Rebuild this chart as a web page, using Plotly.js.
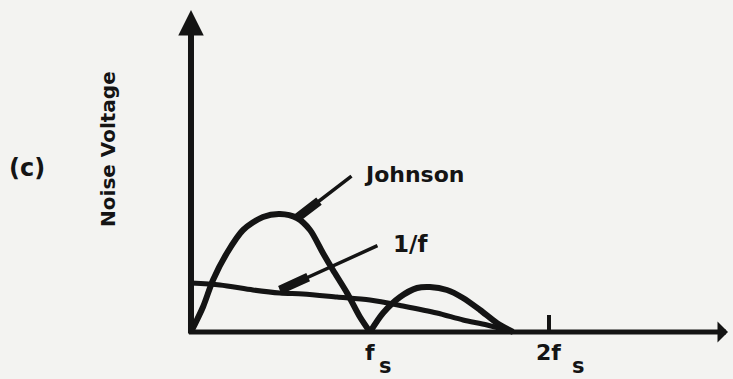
<html lang="en">
  <head>
    <meta charset="UTF-8" />
    <title>Noise Voltage</title>
    <script src="https://cdn.jsdelivr.net/npm/plotly.js-dist-min/plotly.min.js"></script>
    <style>
      body { margin: 0; background: #f3f3f1; }
    </style>
  </head>
  <body>
    <div id="noise-plot" style="width: 733px; height: 379px"></div>
    <script>
      // frequency in units of fs, noise voltage in arbitrary units
      const johnsonLobe1F = [0, 0.067, 0.123, 0.201, 0.291, 0.402, 0.497, 0.592, 0.665, 0.737, 0.793, 0.872, 0.944, 1.0];
      const johnsonLobe1V = [0, 0.25, 0.52, 0.79, 1.02, 1.15, 1.18, 1.14, 1.02, 0.79, 0.62, 0.39, 0.15, 0];
      const johnsonLobe2F = [1.0, 1.073, 1.168, 1.263, 1.335, 1.43, 1.52, 1.615, 1.709, 1.799];
      const johnsonLobe2V = [0, 0.19, 0.35, 0.44, 0.45, 0.42, 0.34, 0.22, 0.09, 0];
      const flickerF = [0, 0.162, 0.346, 0.497, 0.626, 0.816, 1.0, 1.184, 1.374, 1.52, 1.654, 1.799];
      const flickerV = [0.49, 0.47, 0.42, 0.39, 0.38, 0.35, 0.32, 0.26, 0.19, 0.12, 0.07, 0];
      const tickVals = [1, 2];
      const tickMain = ["f", "2f"];
      const tickSub = ["s", "s"];
      const tickMarked = [false, true];

      const ink = "#141414";
      const font = { family: "DejaVu Sans", size: 22, color: ink, weight: "bold" };

      const curve = (x, y, w) => ({
        x: x,
        y: y,
        type: "scatter",
        mode: "lines",
        line: { color: ink, width: w, shape: "spline", smoothing: 0.8 },
        hoverinfo: "skip",
        showlegend: false,
      });

      const traces = [
        curve(flickerF, flickerV, 5),
        curve(johnsonLobe1F, johnsonLobe1V, 6),
        curve(johnsonLobe2F, johnsonLobe2V, 6),
      ];

      const arrow = (x, y, ax, ay, opts) =>
        Object.assign(
          {
            x: x, y: y, ax: ax, ay: ay,
            xref: "x", yref: "y", axref: "x", ayref: "y",
            text: "", showarrow: true, arrowcolor: ink,
            arrowhead: 0, standoff: 0, startstandoff: 0,
          },
          opts
        );

      const label = (text, x, y, opts) =>
        Object.assign(
          { text: text, x: x, y: y, xref: "x", yref: "y", showarrow: false, font: font },
          opts
        );

      // pointer: thin line from label to curve, thick stroke next to the curve
      const pointer = (tip, tail, frac) => [
        arrow(tip[0], tip[1], tail[0], tail[1], { arrowwidth: 3.5 }),
        arrow(tip[0], tip[1], tip[0] + (tail[0] - tip[0]) * frac, tip[1] + (tail[1] - tip[1]) * frac, { arrowwidth: 9 }),
      ];

      const annotations = [
        // axes
        arrow(0, 3.22, 0, -0.03, { arrowhead: 2, arrowsize: 0.85, arrowwidth: 6 }),
        arrow(3.0, 0, -0.02, 0, { arrowhead: 1, arrowsize: 0.7, arrowwidth: 5 }),
        // curve labels
        ...pointer([johnsonLobe1F[7], johnsonLobe1V[7]], [0.905, 1.57], 0.42),
        ...pointer([flickerF[3], flickerV[3] + 0.03], [1.05, 0.87], 0.3),
        label("Johnson", 0.955, 1.58, { xanchor: "left" }),
        label("1/f", 1.12, 0.88, { xanchor: "left", font: Object.assign({}, font, { size: 23 }) }),
        label("(c)", -0.916, 1.64, { font: Object.assign({}, font, { size: 24 }) }),
        label("Noise Voltage", -0.464, 1.83, { textangle: -90, font: Object.assign({}, font, { size: 20 }) }),
      ];

      tickVals.forEach((v, i) => {
        annotations.push(label(tickMain[i], v, -0.2));
        annotations.push(
          label(tickSub[i], v, -0.335, {
            xanchor: "left",
            xshift: i === 0 ? 7 : 21,
            font: Object.assign({}, font, { size: 21 }),
          })
        );
      });

      const shapes = tickVals
        .filter((v, i) => tickMarked[i])
        .map((v) => ({
          type: "line", xref: "x", yref: "y",
          x0: v, x1: v, y0: 0, y1: 0.17,
          line: { color: ink, width: 4 },
        }));

      Plotly.newPlot(
        "noise-plot",
        traces,
        {
          width: 733,
          height: 379,
          margin: { l: 0, r: 0, t: 0, b: 0 },
          paper_bgcolor: "#f3f3f1",
          plot_bgcolor: "#f3f3f1",
          xaxis: { range: [-1.067, 3.028], visible: false, fixedrange: true },
          yaxis: { range: [-0.47, 3.32], visible: false, fixedrange: true },
          annotations: annotations,
          shapes: shapes,
          showlegend: false,
        },
        { staticPlot: true }
      );
    </script>
  </body>
</html>
